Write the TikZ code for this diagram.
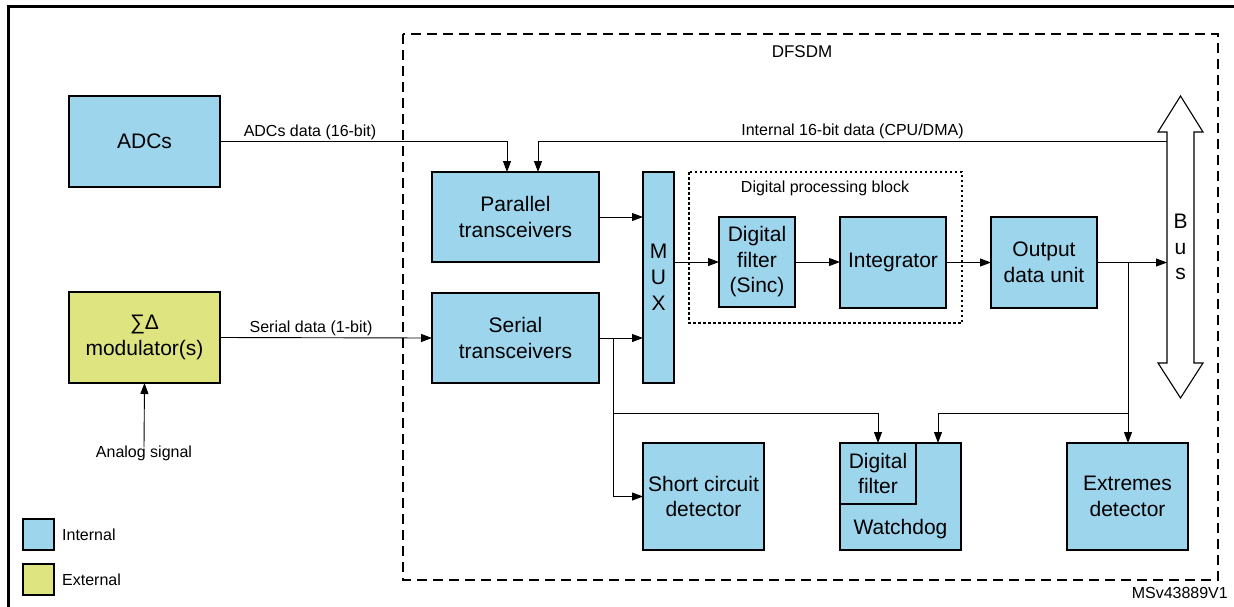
\documentclass[tikz,border=0pt]{standalone}
\usepackage{fontspec}
\setmainfont{Liberation Sans}
\usetikzlibrary{arrows.meta}
\definecolor{intblue}{RGB}{157,213,237}
\definecolor{extgreen}{RGB}{222,229,128}

\begin{document}
\begin{tikzpicture}[x=1pt,y=-1pt,
  blk/.style={draw, line width=1.8pt, fill=intblue, align=center, inner sep=0pt, outer sep=0pt,
    font=\fontsize{21}{25.5}\selectfont},
  extblk/.style={blk, fill=extgreen},
  lbl/.style={font=\fontsize{16}{19}\selectfont, inner sep=0pt},
  link/.style={line width=0.9pt, -{Triangle[length=11pt,width=8pt]}},
  legbox/.style={draw, line width=1.3pt, minimum width=31pt, minimum height=31pt, inner sep=0pt},
]
\useasboundingbox (0,0) rectangle (1234,606);
\clip (0,0) rectangle (1234,606);

% outer frame
\draw[line width=3pt] (8,615) -- (8,6) -- (1245,6);

% DFSDM boundary
\draw[line width=2pt, dash pattern=on 10pt off 6pt] (403,34) rectangle (1218,580);
\node[font=\fontsize{17}{20}\selectfont, inner sep=0pt] (dfsdm) at (802,52) {DFSDM};

% digital processing block
\draw[line width=1.6pt, dash pattern=on 2.5pt off 2.5pt] (689,172) rectangle (962,323);
\node[lbl] (dpb) at (825,188) {Digital processing block};

% external blocks
\node[blk, minimum width=151pt, minimum height=91pt] (adcs) at (144.5,141.5) {ADCs};
\node[extblk, minimum width=151pt, minimum height=91pt] (sd) at (144.5,337.5) {∑Δ\\modulator(s)};

% transceivers and multiplexer
\node[blk, minimum width=167pt, minimum height=90pt] (par) at (515.5,217) {Parallel\\transceivers};
\node[blk, minimum width=167pt, minimum height=90pt] (ser) at (515.5,338) {Serial\\transceivers};
\node[blk, minimum width=31pt, minimum height=211pt, font=\fontsize{21}{26}\selectfont] (mux) at (658.5,277.5) {M\\U\\X};

% processing chain
\node[blk, minimum width=76pt, minimum height=90pt] (filt) at (757,262) {Digital\\filter\\(Sinc)};
\node[blk, minimum width=106pt, minimum height=91pt] (integ) at (893,262.5) {Integrator};
\node[blk, minimum width=106pt, minimum height=91pt] (out) at (1044,262.5) {Output\\data unit};

% detectors
\node[blk, minimum width=121pt, minimum height=107pt] (sc) at (703.5,496.5) {Short circuit\\detector};
\node[blk, minimum width=121pt, minimum height=107pt] (wd) at (900.5,496.5) {};
\node[blk, line width=1.3pt, anchor=north west, minimum width=76pt, minimum height=61pt] (wdf) at (wd.north west) {Digital\\filter};
\node[font=\fontsize{21}{25.5}\selectfont, inner sep=0pt] (wdl) at (900.5,529) {Watchdog};
\draw[line width=1.8pt] (wd.north west) rectangle (wd.south east);
\node[blk, minimum width=121pt, minimum height=107pt] (ext) at (1127.5,496.5) {Extremes\\detector};

% bus
\draw[line width=1.1pt, fill=white] (1180.5,96) -- (1203,132) -- (1194,132) -- (1194,363) -- (1203,363)
  -- (1180.5,398) -- (1158,363) -- (1167,363) -- (1167,132) -- (1158,132) -- cycle;
\node[font=\fontsize{21}{25.5}\selectfont, align=center, inner sep=0pt] (bus) at (1180.5,247) {B\\u\\s};
\coordinate (busw) at (1167,141);

% helper rows
\coordinate (rowy) at (0,413);
\coordinate (sb) at (613,338);
\coordinate (ob) at (1128,262.5);

% connectors
\draw[link] (adcs.east) -| ([xshift=-8.5pt]par.north);
\node[lbl] (adcsl) at (310,132) {ADCs data (16-bit)};
\draw[link] (busw) -| ([xshift=22.5pt]par.north);
\node[lbl] (intl) at (852.5,131) {Internal 16-bit data (CPU/DMA)};

\draw[link] (sd.east) -- (ser.west);
\node[lbl] (serl) at (311,328) {Serial data (1-bit)};

\node[lbl] (ana) at (144,453) {Analog signal};
\draw[link] ([yshift=-2pt]ana.north) -- (sd.south);

\draw[link] (par.east) -- (mux.west |- par.east);
\draw[link] (ser.east) -- (mux.west |- ser.east);
\draw[link] (mux.east |- filt.west) -- (filt.west);
\draw[link] (filt.east) -- (integ.west |- filt.east);
\draw[link] (integ.east) -- (out.west);
\draw[link] (out.east) -- (busw |- out.east);

\draw[link] (sb) |- (sc.west);
\draw[link] (sb |- rowy) -| (wdf.north);
\draw[link] (ob) -- (ob |- ext.north);
\draw[link] (ob |- rowy) -| ([xshift=37.5pt]wd.north);

% legend
\node[legbox, fill=intblue] (lint) at (38.5,534.5) {};
\node[lbl, anchor=west] (lintl) at (62,535) {Internal};
\node[legbox, fill=extgreen] (lext) at (38.5,579.5) {};
\node[lbl, anchor=west] (lextl) at (62,580) {External};

\node[lbl, anchor=east] (ref) at (1228,593) {MSv43889V1};
\end{tikzpicture}
\end{document}
